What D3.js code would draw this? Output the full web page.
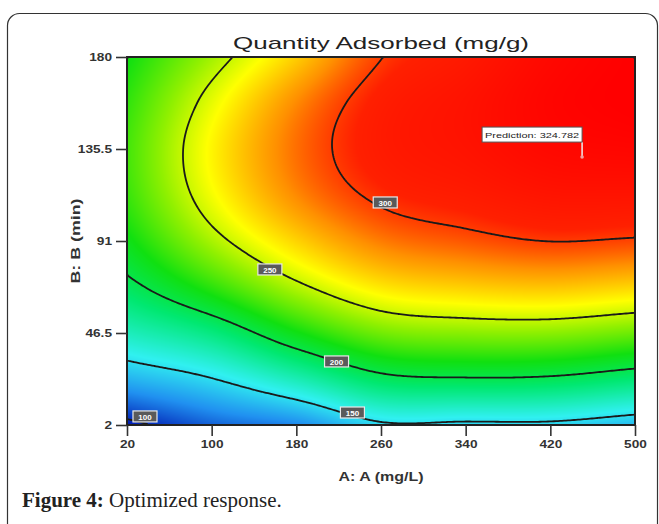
<!DOCTYPE html>
<html>
<head>
<meta charset="utf-8">
<script src="https://cdn.jsdelivr.net/npm/d3@7"></script>
<style>
body { margin: 0; background: #fff; }
</style>
</head>
<body>
<script>
// factor levels of the grid
var aValues = [20, 100, 180, 260, 340, 420, 500];
var bValues = [2, 24.25, 46.5, 68.75, 91, 113.25, 135.5, 157.75, 180];
// quantity adsorbed (mg/g) along each A column, from B = 2 up to B = 180
var qA20  = [94.6, 135.7, 169.0, 194.6, 212.4, 222.5, 224.8, 221.0, 214.0];
var qA100 = [113.0, 149.3, 186.0, 220.5, 244.3, 258.1, 261.9, 255.7, 243.0];
var qA180 = [123.0, 171.3, 213.5, 246.3, 269.8, 286.0, 291.0, 286.0, 271.0];
var qA260 = [146.8, 194.6, 234.1, 265.2, 288.5, 303.0, 309.0, 307.5, 299.5];
var qA340 = [146.0, 198.5, 238.7, 271.0, 295.4, 308.9, 315.5, 316.1, 310.7];
var qA420 = [146.0, 197.2, 238.9, 273.4, 300.2, 314.6, 323.3, 326.3, 323.5];
var qA500 = [138.3, 189.4, 233.1, 269.5, 298.4, 315.0, 325.7, 330.9, 330.5];

var contourLevels = [100, 150, 200, 250, 300];
var contourLabelA = [37, 233, 218, 155, 264];
var contourLabelB = [5.9, 7.8, 32.5, 77, 109.4];

var aTicks = [20, 100, 180, 260, 340, 420, 500];
var bTicks = [2, 46.5, 91, 135.5, 180];

var predA = 450, predB = 131.6, predValue = 324.782;

var colorStops = [95, 125, 155, 190, 215, 240, 260, 285, 305, 330];
var colorRange = ["#0018b0", "#2090f0", "#30f0f0", "#00e870", "#10e010",
                  "#90f000", "#ffff00", "#ff9000", "#ff2000", "#ff0000"];

var W = 659, H = 524;
var pL = 127, pR = 635, pT = 57, pB = 425;

var svg = d3.select("body").append("svg")
    .attr("width", W)
    .attr("height", H);

var x = d3.scaleLinear().domain([20, 500]).range([pL, pR]);
var y = d3.scaleLinear().domain([2, 180]).range([pB, pT]);
var color = d3.scaleLinear().domain(colorStops).range(colorRange)
    .interpolate(d3.interpolateRgb).clamp(true);

var cols = [qA20, qA100, qA180, qA260, qA340, qA420, qA500];
var nA = aValues.length, nB = bValues.length;

function g(i, j) {
    if (i < 0) return 2 * g(0, j) - g(1, j);
    if (i > nA - 1) return 2 * g(nA - 1, j) - g(nA - 2, j);
    if (j < 0) return 2 * g(i, 0) - g(i, 1);
    if (j > nB - 1) return 2 * g(i, nB - 1) - g(i, nB - 2);
    return cols[i][j];
}
function cr(p0, p1, p2, p3, t) {
    return 0.5 * (2 * p1 + (p2 - p0) * t
        + (2 * p0 - 5 * p1 + 4 * p2 - p3) * t * t
        + (3 * p1 - p0 - 3 * p2 + p3) * t * t * t);
}
// smooth surface through the grid values
function q(a, b) {
    var u = (a - aValues[0]) / (aValues[1] - aValues[0]);
    var v = (b - bValues[0]) / (bValues[1] - bValues[0]);
    var i = Math.max(0, Math.min(nA - 2, Math.floor(u))), t = u - i;
    var j = Math.max(0, Math.min(nB - 2, Math.floor(v))), s = v - j;
    var r = [];
    for (var k = -1; k <= 2; k++) {
        r.push(cr(g(i - 1, j + k), g(i, j + k), g(i + 1, j + k), g(i + 2, j + k), t));
    }
    return cr(r[0], r[1], r[2], r[3], s);
}

// colour field
var pw = pR - pL, ph = pB - pT;
var canvas = document.createElement("canvas");
canvas.width = pw;
canvas.height = ph;
var ctx = canvas.getContext("2d");
var img = ctx.createImageData(pw, ph);
for (var py = 0; py < ph; py++) {
    var bv = y.invert(pT + py + 0.5);
    for (var px = 0; px < pw; px++) {
        var c = d3.rgb(color(q(x.invert(pL + px + 0.5), bv)));
        var o = (py * pw + px) * 4;
        img.data[o] = c.r;
        img.data[o + 1] = c.g;
        img.data[o + 2] = c.b;
        img.data[o + 3] = 255;
    }
}
ctx.putImageData(img, 0, 0);

svg.append("image")
    .attr("x", pL).attr("y", pT)
    .attr("width", pw).attr("height", ph)
    .attr("preserveAspectRatio", "none")
    .attr("href", canvas.toDataURL());

// contour lines
var step = 2, nx = pw / step, ny = ph / step;
var grid = new Array(nx * ny);
for (var j = 0; j < ny; j++) {
    for (var i = 0; i < nx; i++) {
        grid[j * nx + i] = q(x.invert(pL + (i + 0.5) * step), y.invert(pT + (j + 0.5) * step));
    }
}
var contours = d3.contours().size([nx, ny]).thresholds(contourLevels)(grid);
var path = d3.geoPath(d3.geoTransform({
    point: function(px, py) { this.stream.point(pL + px * step, pT + py * step); }
}));

svg.append("clipPath").attr("id", "plotclip")
    .append("rect")
    .attr("x", pL).attr("y", pT)
    .attr("width", pw).attr("height", ph);

svg.append("g")
    .attr("clip-path", "url(#plotclip)")
    .selectAll("path")
    .data(contours)
    .enter()
    .append("path")
    .attr("d", path)
    .attr("fill", "none")
    .attr("stroke", "#1a1a1a")
    .attr("stroke-width", 1.8);

// frame
svg.append("rect")
    .attr("x", pL).attr("y", pT)
    .attr("width", pw).attr("height", ph)
    .attr("fill", "none")
    .attr("stroke", "#222")
    .attr("stroke-width", 2);

function stretch(sel, f) {
    sel.each(function() {
        var len = this.getComputedTextLength();
        d3.select(this).attr("textLength", len * f).attr("lengthAdjust", "spacingAndGlyphs");
    });
}

// axes
var yAxis = svg.append("g")
    .attr("transform", "translate(" + pL + ",0)")
    .call(d3.axisLeft(y).tickValues(bTicks).tickSize(11).tickPadding(4).tickSizeOuter(0)
        .tickFormat(function(d) { return d; }));
var xAxis = svg.append("g")
    .attr("transform", "translate(0," + pB + ")")
    .call(d3.axisBottom(x).tickValues(aTicks).tickSize(11).tickPadding(5).tickSizeOuter(0));

[yAxis, xAxis].forEach(function(ax) {
    ax.select(".domain").remove();
    ax.selectAll("line").attr("stroke", "#333").attr("stroke-width", 1.6);
    ax.selectAll("text")
        .attr("font-family", "Liberation Sans, Arial, sans-serif")
        .attr("font-size", "10.5px")
        .attr("font-weight", "bold")
        .attr("fill", "#333");
});
stretch(yAxis.selectAll("text"), 1.3);
stretch(xAxis.selectAll("text"), 1.3);

// contour labels
var labels = svg.append("g");
contourLevels.forEach(function(lv, k) {
    var cx = x(contourLabelA[k]), cy = y(contourLabelB[k]);
    labels.append("rect")
        .attr("x", cx - 12).attr("y", cy - 6)
        .attr("width", 24).attr("height", 11)
        .attr("fill", "#5a5a5a")
        .attr("stroke", "#e8e8e8")
        .attr("stroke-width", 1.2);
    labels.append("text")
        .attr("x", cx).attr("y", cy + 3)
        .attr("text-anchor", "middle")
        .attr("font-family", "Liberation Sans, Arial, sans-serif")
        .attr("font-size", "8px")
        .attr("font-weight", "bold")
        .attr("fill", "#fff")
        .text(lv);
});

// prediction flag
var fx = x(predA), fy = y(predB);
svg.append("line")
    .attr("x1", fx).attr("y1", fy)
    .attr("x2", fx).attr("y2", fy - 15)
    .attr("stroke", "#eee")
    .attr("stroke-width", 1.5);
svg.append("circle")
    .attr("cx", fx).attr("cy", fy)
    .attr("r", 1.8)
    .attr("fill", "#f0a0a0");
svg.append("rect")
    .attr("x", fx - 100).attr("y", fy - 30)
    .attr("width", 100).attr("height", 15)
    .attr("fill", "#fff")
    .attr("stroke", "#555")
    .attr("stroke-width", 1);
svg.append("text")
    .attr("x", fx - 97).attr("y", fy - 19.5)
    .attr("font-family", "Liberation Sans, Arial, sans-serif")
    .attr("font-size", "8px")
    .attr("fill", "#222")
    .attr("textLength", 94)
    .attr("lengthAdjust", "spacingAndGlyphs")
    .text("Prediction: " + predValue);

// titles
svg.append("text")
    .attr("x", (pL + pR) / 2).attr("y", 49)
    .attr("text-anchor", "middle")
    .attr("font-family", "Liberation Sans, Arial, sans-serif")
    .attr("font-size", "17px")
    .attr("fill", "#222")
    .attr("textLength", 296)
    .attr("lengthAdjust", "spacingAndGlyphs")
    .text("Quantity Adsorbed (mg/g)");

svg.append("text")
    .attr("x", (pL + pR) / 2).attr("y", 481)
    .attr("text-anchor", "middle")
    .attr("font-family", "Liberation Sans, Arial, sans-serif")
    .attr("font-size", "12px")
    .attr("font-weight", "bold")
    .attr("fill", "#333")
    .attr("textLength", 85)
    .attr("lengthAdjust", "spacingAndGlyphs")
    .text("A: A (mg/L)");

svg.append("text")
    .attr("transform", "translate(80," + ((pT + pB) / 2) + ") rotate(-90)")
    .attr("text-anchor", "middle")
    .attr("font-family", "Liberation Sans, Arial, sans-serif")
    .attr("font-size", "12px")
    .attr("font-weight", "bold")
    .attr("fill", "#333")
    .attr("textLength", 85)
    .attr("lengthAdjust", "spacingAndGlyphs")
    .text("B: B (min)");

// panel border and caption
svg.append("rect")
    .attr("x", 7.5).attr("y", 13.5)
    .attr("width", 650).attr("height", 580)
    .attr("rx", 12)
    .attr("fill", "none")
    .attr("stroke", "#333")
    .attr("stroke-width", 1.2);

var cap = svg.append("text")
    .attr("x", 22).attr("y", 507)
    .attr("font-family", "Liberation Serif, Times New Roman, serif")
    .attr("font-size", "21px")
    .attr("fill", "#222");
cap.append("tspan").attr("font-weight", "bold").text("Figure 4:");
cap.append("tspan").text(" Optimized response.");
</script>
</body>
</html>
